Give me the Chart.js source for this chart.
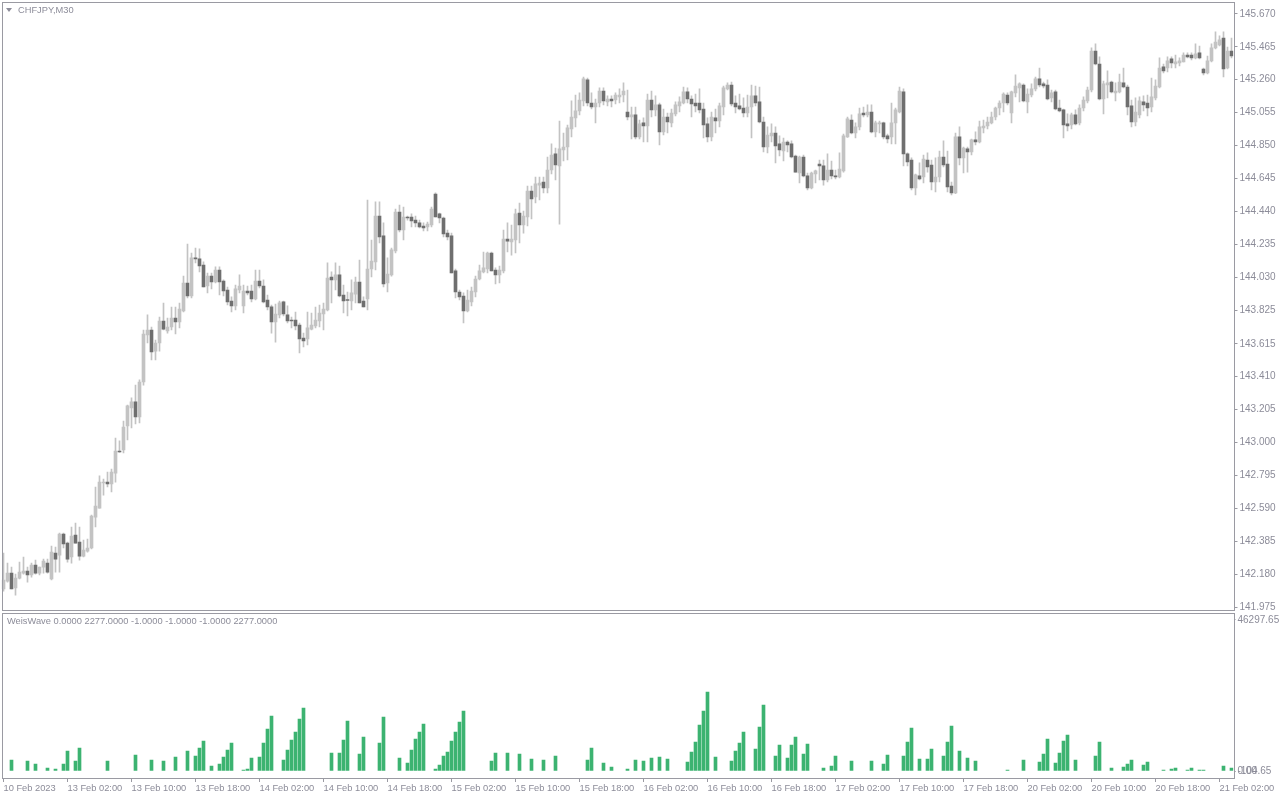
<!DOCTYPE html>
<html>
<head>
<meta charset="utf-8">
<script src="https://cdn.jsdelivr.net/npm/chart.js@4/dist/chart.umd.min.js"></script>
<style>
html, body { margin: 0; padding: 0; background: #fff; }
#wrap { position: relative; width: 1280px; height: 800px; overflow: hidden; background: #fff; }
#main { position: absolute; left: 0; top: 0; }
#sub { position: absolute; left: 0; top: 612px; }
.lbl { position: absolute; font: 9.3px 'Liberation Sans', Arial, sans-serif; line-height: 12px; color: #8c8c99; white-space: nowrap; }
.tri { position: absolute; left: 6px; top: 8px; width: 0; height: 0; border-left: 3px solid transparent; border-right: 3px solid transparent; border-top: 4px solid #8c8c99; }
</style>
</head>
<body>
<div id="wrap">
  <canvas id="main" width="1280" height="612"></canvas>
  <canvas id="sub" width="1280" height="188"></canvas>
  <div class="tri"></div>
  <div class="lbl" style="left:18px; top:4px;">CHFJPY,M30</div>
  <div class="lbl" style="left:7px; top:615px;">WeisWave 0.0000 2277.0000 -1.0000 -1.0000 -1.0000 2277.0000</div>
</div>
<script>
// CHFJPY M30 candles
var opens = [
  142.088,142.137,142.187,142.094,142.156,142.187,142.200,142.175,142.237,142.187,
  142.224,142.249,142.150,142.312,142.299,142.430,142.374,142.287,142.424,142.380,
  142.293,142.324,142.343,142.536,142.592,142.748,142.754,142.742,142.810,142.947,
  142.954,143.103,143.215,143.253,143.159,143.377,143.670,143.701,143.570,143.620,
  143.757,143.695,143.720,143.776,143.751,143.820,143.994,143.913,144.150,144.144,
  144.106,143.975,144.037,144.000,144.075,144.006,143.950,143.882,143.851,143.950,
  143.851,143.944,143.944,143.894,144.006,143.975,143.888,143.845,143.751,143.795,
  143.876,143.795,143.763,143.763,143.732,143.651,143.645,143.707,143.726,143.757,
  143.801,143.826,144.031,144.013,144.044,143.919,143.888,143.882,143.925,144.000,
  143.882,143.894,144.081,144.125,144.411,144.287,143.994,144.044,144.193,144.436,
  144.324,144.405,144.405,144.386,144.368,144.349,144.343,144.355,144.548,144.424,
  144.399,144.305,144.287,144.069,143.938,143.913,143.820,143.876,143.938,144.019,
  144.063,144.081,144.181,144.075,144.044,144.069,144.268,144.249,144.262,144.430,
  144.355,144.405,144.567,144.530,144.604,144.623,144.586,144.698,144.798,144.723,
  144.823,144.841,144.953,145.022,145.066,145.128,145.259,145.115,145.090,145.115,
  145.190,145.122,145.140,145.134,145.153,145.165,145.059,145.028,145.041,144.904,
  144.991,144.972,145.134,145.072,145.103,144.935,145.028,144.991,145.047,145.097,
  145.115,145.184,145.140,145.115,145.115,145.078,144.985,144.904,145.022,145.003,
  145.090,145.203,145.227,145.115,145.097,145.084,145.053,145.090,145.159,145.122,
  144.997,144.841,144.910,144.928,144.860,144.816,144.872,144.860,144.785,144.679,
  144.779,144.661,144.586,144.673,144.735,144.723,144.636,144.698,144.661,144.654,
  144.692,144.904,145.009,144.928,144.966,145.053,145.041,145.059,144.935,144.985,
  144.991,144.910,144.904,144.991,145.059,145.184,144.798,144.760,144.586,144.661,
  144.654,144.760,144.729,144.623,144.654,144.779,144.735,144.598,144.555,144.904,
  144.773,144.829,144.810,144.885,144.872,144.960,144.972,144.991,145.028,145.084,
  145.115,145.165,145.053,145.178,145.209,145.227,145.122,145.165,145.203,145.265,
  145.234,145.227,145.147,145.184,145.084,145.072,144.985,144.978,145.041,144.991,
  145.084,145.128,145.196,145.439,145.358,145.140,145.227,145.246,145.178,145.184,
  145.240,145.215,145.097,144.997,145.041,145.122,145.115,145.090,145.147,145.215,
  145.340,145.333,145.390,145.358,145.365,145.371,145.414,145.414,145.396,145.427,
  145.327,145.302,145.377,145.458,145.477,145.520,145.333,145.439
];
var highs = [
  142.312,142.249,142.224,142.180,142.255,142.287,142.224,142.249,142.268,142.224,
  142.274,142.274,142.355,142.349,142.436,142.436,142.380,142.474,142.499,142.474,
  142.393,142.399,142.548,142.723,142.792,142.773,142.816,142.835,143.028,143.010,
  143.134,143.234,143.278,143.358,143.390,143.701,143.795,143.720,143.639,143.782,
  143.869,143.776,143.844,143.844,143.869,144.037,144.237,144.181,144.212,144.206,
  144.125,144.056,144.056,144.094,144.094,144.013,143.969,143.907,143.981,144.044,
  143.981,143.975,143.981,144.075,144.075,144.013,143.919,143.857,143.863,143.882,
  143.882,143.851,143.782,143.813,143.745,143.682,143.813,143.807,143.844,143.857,
  143.869,144.119,144.063,144.119,144.100,143.981,143.938,144.013,144.031,144.137,
  143.907,144.511,144.262,144.499,144.499,144.368,144.150,144.212,144.455,144.480,
  144.467,144.411,144.424,144.411,144.386,144.368,144.374,144.467,144.555,144.430,
  144.405,144.324,144.305,144.081,143.950,143.932,143.950,143.969,144.037,144.106,
  144.187,144.187,144.187,144.088,144.100,144.324,144.368,144.355,144.455,144.492,
  144.442,144.598,144.598,144.654,144.654,144.654,144.779,144.860,144.835,145.003,
  144.928,144.978,145.128,145.165,145.178,145.277,145.271,145.178,145.140,145.209,
  145.209,145.159,145.159,145.178,145.203,145.240,145.196,145.090,145.090,145.009,
  145.022,145.171,145.190,145.159,145.115,145.078,145.053,145.078,145.122,145.153,
  145.215,145.209,145.159,145.171,145.203,145.115,145.022,145.059,145.078,145.115,
  145.221,145.240,145.246,145.159,145.171,145.147,145.165,145.227,145.221,145.215,
  145.028,144.966,144.985,144.966,144.910,144.897,144.879,144.879,144.791,144.785,
  144.791,144.679,144.685,144.698,144.760,144.760,144.798,144.754,144.698,144.804,
  144.922,145.028,145.041,144.991,145.084,145.090,145.103,145.103,145.003,145.003,
  144.997,144.922,145.115,145.084,145.215,145.203,144.804,144.773,144.673,144.742,
  144.791,144.804,144.760,144.773,144.816,144.879,144.816,144.623,144.928,144.966,
  144.841,144.841,144.891,144.935,145.003,145.009,145.028,145.059,145.090,145.128,
  145.178,145.178,145.190,145.290,145.240,145.234,145.203,145.234,145.277,145.333,
  145.246,145.259,145.196,145.196,145.134,145.078,145.047,145.053,145.072,145.103,
  145.153,145.215,145.458,145.483,145.402,145.252,145.315,145.252,145.240,145.296,
  145.333,145.227,145.134,145.147,145.153,145.159,145.165,145.271,145.259,145.396,
  145.358,145.402,145.402,145.414,145.396,145.427,145.427,145.427,145.483,145.470,
  145.333,145.408,145.483,145.558,145.533,145.558,145.464,145.520
];
var lows = [
  142.075,142.131,142.088,142.050,142.150,142.180,142.131,142.162,142.180,142.175,
  142.187,142.187,142.144,142.193,142.193,142.343,142.255,142.249,142.374,142.268,
  142.287,142.318,142.337,142.474,142.592,142.673,142.723,142.692,142.754,142.938,
  142.935,143.016,143.091,143.116,143.122,143.358,143.620,143.514,143.514,143.570,
  143.701,143.682,143.701,143.676,143.714,143.814,143.901,143.901,144.119,144.063,
  143.969,143.932,143.957,143.994,143.919,143.913,143.857,143.813,143.826,143.932,
  143.807,143.919,143.876,143.888,143.963,143.870,143.826,143.682,143.626,143.776,
  143.789,143.745,143.714,143.701,143.558,143.595,143.608,143.701,143.714,143.720,
  143.701,143.820,143.870,143.950,143.907,143.807,143.789,143.826,143.870,143.870,
  143.845,143.826,144.031,144.075,144.243,143.969,143.938,144.037,144.181,144.312,
  144.262,144.386,144.343,144.343,144.337,144.318,144.318,144.343,144.405,144.368,
  144.281,144.262,144.056,143.901,143.888,143.745,143.814,143.851,143.907,144.013,
  144.056,144.056,144.069,143.988,143.994,144.056,144.187,144.168,144.181,144.243,
  144.305,144.349,144.393,144.492,144.511,144.555,144.555,144.673,144.636,144.361,
  144.754,144.760,144.904,144.966,145.041,145.097,145.097,145.078,144.991,145.090,
  145.103,145.097,145.090,145.109,145.115,145.122,145.009,144.891,144.891,144.891,
  144.872,144.872,145.028,145.034,144.854,144.916,144.928,144.966,145.034,145.059,
  145.109,145.115,145.028,145.059,145.053,144.897,144.872,144.879,144.928,144.966,
  145.041,145.196,145.097,145.053,145.072,145.028,145.028,144.897,145.097,144.991,
  144.810,144.804,144.872,144.742,144.785,144.754,144.810,144.773,144.685,144.617,
  144.654,144.573,144.580,144.617,144.636,144.604,144.623,144.642,144.642,144.648,
  144.685,144.900,144.922,144.897,144.947,145.028,145.028,144.928,144.904,144.928,
  144.891,144.866,144.860,144.860,145.053,144.723,144.723,144.573,144.542,144.636,
  144.617,144.685,144.573,144.561,144.623,144.717,144.561,144.542,144.550,144.729,
  144.679,144.685,144.791,144.854,144.866,144.928,144.953,144.985,145.009,145.041,
  145.059,145.103,144.991,145.153,145.122,145.122,145.053,145.153,145.190,145.215,
  145.209,145.134,145.122,145.072,145.059,144.897,144.941,144.953,144.978,144.978,
  145.066,145.115,145.184,145.352,145.134,145.047,145.147,145.178,145.128,145.178,
  145.209,145.041,144.966,144.972,145.022,145.066,145.034,145.059,145.134,145.209,
  145.302,145.308,145.333,145.333,145.346,145.371,145.396,145.383,145.390,145.390,
  145.290,145.296,145.371,145.452,145.470,145.277,145.327,145.396
];
var closes = [
  142.144,142.187,142.088,142.156,142.193,142.200,142.175,142.237,142.187,142.224,
  142.262,142.193,142.318,142.274,142.430,142.368,142.274,142.418,142.374,142.293,
  142.330,142.343,142.542,142.605,142.754,142.754,142.742,142.816,142.947,142.941,
  143.097,143.228,143.253,143.159,143.377,143.676,143.701,143.564,143.620,143.757,
  143.707,143.720,143.776,143.751,143.832,143.994,143.913,144.150,144.144,144.100,
  143.969,144.037,144.000,144.075,144.000,143.944,143.876,143.851,143.957,143.975,
  143.944,143.932,143.894,144.006,143.975,143.876,143.845,143.751,143.801,143.870,
  143.801,143.757,143.757,143.726,143.645,143.633,143.714,143.732,143.763,143.807,
  143.832,144.025,144.013,144.044,143.913,143.882,143.885,143.932,144.000,143.870,
  143.845,144.081,144.131,144.411,144.281,143.988,144.050,144.200,144.436,144.324,
  144.405,144.399,144.380,144.368,144.343,144.337,144.361,144.455,144.405,144.399,
  144.299,144.281,144.056,143.938,143.907,143.820,143.888,143.944,144.019,144.069,
  144.088,144.181,144.069,144.044,144.075,144.268,144.255,144.268,144.424,144.355,
  144.411,144.567,144.517,144.611,144.617,144.586,144.698,144.791,144.729,144.829,
  144.841,144.960,145.028,145.066,145.134,145.265,145.115,145.090,145.115,145.190,
  145.128,145.140,145.128,145.165,145.165,145.190,145.028,145.041,144.904,144.985,
  144.972,145.134,145.072,145.103,144.935,145.028,144.997,145.053,145.103,145.122,
  145.184,145.140,145.109,145.097,145.072,144.978,144.904,145.028,145.003,145.097,
  145.209,145.227,145.109,145.090,145.078,145.053,145.090,145.159,145.115,144.997,
  144.841,144.916,144.928,144.848,144.823,144.872,144.854,144.779,144.685,144.779,
  144.661,144.586,144.679,144.692,144.723,144.636,144.698,144.661,144.654,144.704,
  144.910,145.016,144.928,144.966,145.047,145.041,145.059,144.935,144.991,144.991,
  144.904,144.891,144.991,145.072,145.190,144.798,144.748,144.586,144.667,144.642,
  144.766,144.717,144.623,144.654,144.779,144.729,144.592,144.555,144.904,144.773,
  144.835,144.810,144.885,144.872,144.966,144.972,144.997,145.028,145.084,145.115,
  145.171,145.115,145.184,145.221,145.234,145.128,145.171,145.203,145.265,145.227,
  145.221,145.140,145.178,145.078,145.066,144.978,144.972,145.041,144.985,145.084,
  145.134,145.196,145.439,145.358,145.140,145.234,145.240,145.184,145.190,145.246,
  145.215,145.090,144.997,145.059,145.128,145.103,145.084,145.153,145.221,145.333,
  145.315,145.377,145.365,145.371,145.377,145.414,145.402,145.396,145.421,145.396,
  145.302,145.377,145.458,145.495,145.508,145.327,145.439,145.408
];

// WeisWave histogram, one value per bar (0 = no bar drawn)
var weisWave = [
  0,0,3370,0,0,0,3070,0,2150,0, 0,920,0,610,0,2150,6130,0,3070,7050,
  0,0,0,0,0,0,3070,0,0,0, 0,0,0,4910,0,0,0,3370,0,0,
  3070,0,0,4290,0,0,6130,0,4600,7050, 9200,0,1530,0,2150,4290,6440,8580,0,0,
  310,610,3990,0,4290,8580,12880,16860,0,0, 3370,6440,9500,11960,15940,19320,0,0,0,0,
  0,0,5520,0,5520,9500,15330,0,0,5210, 10420,0,0,0,8580,16560,0,0,0,3990,
  0,2450,6440,9810,11960,14410,0,0,610,1840, 4600,5830,9200,11960,15020,18400,0,0,0,0,
  0,0,3070,5520,0,0,5520,0,0,5210, 0,0,3680,0,0,3370,0,0,4600,0,
  0,0,0,0,0,0,3370,7050,0,0, 2450,0,1230,0,0,0,610,0,3370,0,
  3070,0,3990,0,4290,0,3680,0,0,0, 0,2760,5830,8890,14100,18400,24220,0,4290,0,
  0,0,3070,6130,8580,11960,0,0,6750,13490, 20240,0,0,4600,7970,0,3990,7970,10420,0,
  5210,8280,0,0,0,920,0,1530,4600,0, 0,0,3070,0,0,0,0,3070,0,0,
  2150,4910,0,0,0,4600,8890,13180,0,3680, 0,3680,6750,0,0,4600,8890,13800,0,6130,
  0,3990,0,3070,0,0,0,0,0,0, 0,310,0,0,0,3370,0,0,0,2760,
  5210,9810,0,2450,5520,9200,11040,0,3370,0, 0,0,0,4600,8890,0,0,920,0,0,
  1230,2150,3370,0,0,1840,2760,0,0,0, 310,0,610,920,0,0,310,920,0,310,
  310,0,0,0,0,1530,0,920
];

var priceTicks = [145.670, 145.465, 145.260, 145.055, 144.850, 144.645, 144.440, 144.235, 144.030,
  143.825, 143.615, 143.410, 143.205, 143.000, 142.795, 142.590, 142.385, 142.180, 141.975];
var waveTicks = [46297.65, 0, -104.65];
var timeLabels = ['10 Feb 2023', '13 Feb 02:00', '13 Feb 10:00', '13 Feb 18:00', '14 Feb 02:00',
  '14 Feb 10:00', '14 Feb 18:00', '15 Feb 02:00', '15 Feb 10:00', '15 Feb 18:00', '16 Feb 02:00',
  '16 Feb 10:00', '16 Feb 18:00', '17 Feb 02:00', '17 Feb 10:00', '17 Feb 18:00', '20 Feb 02:00',
  '20 Feb 10:00', '20 Feb 18:00', '21 Feb 02:00'];
var barsPerLabel = 16;

var barIndex = opens.map(function (o, i) { return i; });

var textColor = '#8c8c99';
var frameColor = '#9a9aa2';
var upColor = '#c3c3c3';
var downColor = '#6f6f6f';
var waveColor = '#3cb371';
var axisFont = { family: "'Liberation Sans', Arial, sans-serif", size: 10 };
var timeFont = { family: "'Liberation Sans', Arial, sans-serif", size: 9.3 };

function framePlugin(x, y, w, h) {
  return {
    id: 'frame',
    afterDraw: function (chart) {
      var c = chart.ctx;
      c.save();
      c.strokeStyle = frameColor;
      c.lineWidth = 1;
      c.strokeRect(x, y, w, h);
      c.restore();
    }
  };
}

function noPad(s) { s.paddingLeft = 0; s.paddingRight = 0; s.paddingTop = 0; s.paddingBottom = 0; }

// price window
new Chart(document.getElementById('main'), {
  type: 'bar',
  data: {
    labels: barIndex,
    datasets: [
      {
        // bodies
        data: opens.map(function (o, i) { return [o, closes[i]]; }),
        backgroundColor: opens.map(function (o, i) { return closes[i] >= o ? upColor : downColor; }),
        barThickness: 3,
        minBarLength: 1,
        grouped: false,
        order: 0
      },
      {
        // wicks
        data: lows.map(function (l, i) { return [l, highs[i]]; }),
        backgroundColor: upColor,
        barThickness: 1,
        grouped: false,
        order: 1
      }
    ]
  },
  options: {
    responsive: false,
    animation: false,
    events: [],
    layout: { padding: { left: 1.5, right: 0.5, top: 3, bottom: 2 } },
    plugins: { legend: { display: false }, tooltip: { enabled: false } },
    scales: {
      x: { display: false, afterFit: noPad },
      y: {
        position: 'right',
        min: 141.957,
        max: 145.738,
        afterBuildTicks: function (s) { s.ticks = priceTicks.map(function (v) { return { value: v }; }); },
        afterFit: function (s) { s.width = 46; noPad(s); },
        grid: { drawOnChartArea: false, tickLength: 4, color: frameColor },
        border: { display: false },
        ticks: {
          padding: 2,
          color: textColor,
          font: axisFont,
          callback: function (v) { return Number(v).toFixed(3); }
        }
      }
    }
  },
  plugins: [framePlugin(2.5, 2.5, 1232, 608)]
});

// WeisWave window
new Chart(document.getElementById('sub'), {
  type: 'bar',
  data: {
    labels: barIndex,
    datasets: [{
      // empty bars stay empty instead of a hairline at zero
      data: weisWave.map(function (v) { return v > 0 ? v : null; }),
      backgroundColor: waveColor,
      barThickness: 3
    }]
  },
  options: {
    responsive: false,
    animation: false,
    events: [],
    layout: { padding: { left: 1.5, right: 0.5, top: 1, bottom: 0 } },
    plugins: { legend: { display: false }, tooltip: { enabled: false } },
    scales: {
      x: {
        afterBuildTicks: function (s) {
          s.ticks = timeLabels.map(function (t, k) { return { value: k * barsPerLabel }; });
        },
        afterFit: function (s) { s.height = 22; noPad(s); },
        grid: { drawOnChartArea: false, offset: false, tickLength: 4, color: frameColor },
        border: { display: false },
        ticks: {
          autoSkip: false,
          maxRotation: 0,
          minRotation: 0,
          align: 'start',
          padding: 1,
          color: textColor,
          font: timeFont,
          callback: function (v) { return timeLabels[Math.round(v / barsPerLabel)]; }
        }
      },
      y: {
        position: 'right',
        min: -2146,
        max: 48443,
        afterBuildTicks: function (s) { s.ticks = waveTicks.map(function (v) { return { value: v }; }); },
        afterFit: function (s) { s.width = 46; noPad(s); },
        grid: { drawOnChartArea: false, tickLength: 2, color: frameColor },
        border: { display: false },
        ticks: {
          padding: 2,
          autoSkip: false,
          color: textColor,
          font: axisFont,
          callback: function (v) { return Number(v).toFixed(2); }
        }
      }
    }
  },
  plugins: [framePlugin(2.5, 1.5, 1232, 165)]
});
</script>
</body>
</html>
